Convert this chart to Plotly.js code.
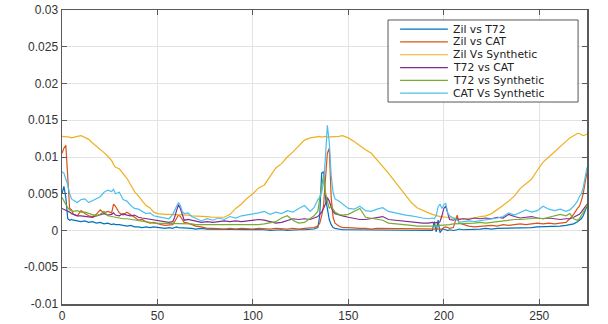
<!DOCTYPE html>
<html>
<head>
<meta charset="utf-8">
<script src="https://cdn.plot.ly/plotly-3.0.1.min.js"></script>
<style>html,body{margin:0;padding:0;background:#fff;}#plot{width:608px;height:324px;}</style>
</head>
<body>
<div id="plot"></div>
<script>
const xs = [0,1,2,3,4,5,6,
  8,10,12,14,16,18,20,22,24,26,
  27,28,30,32,34,36,38,40,42,44,46,48,50,
  52,54,56,58,59,60,61,62,63,64,
  66,68,70,73,76,79,82,85,88,91,94,97,100,
  103,106,109,112,115,118,121,124,127,130,
  132,134,135,136,137,138,139,140,141,142,143,
  145,147,150,153,156,159,162,165,168,171,
  174,177,180,183,186,189,192,194,195,196,
  197,198,199,200,201,202,203,205,207,208,
  210,213,216,219,222,225,228,231,234,237,
  240,243,246,249,252,255,258,261,264,266,
  268,270,271,272,273,274,275];

const zilVsT72 = [0.0050,0.0060,0.0045,0.0016,0.0014,0.0015,0.0014,
  0.0013,0.0012,0.0013,0.0011,0.0012,0.0010,0.0011,0.0009,0.0010,0.0008,
  0.0009,0.0008,0.0008,0.0007,0.0006,0.0007,0.0005,0.0005,0.0004,0.0005,0.0004,0.0005,0.0004,
  0.0004,0.0003,0.0004,0.0003,0.0004,0.0005,0.0004,0.0004,0.0003,0.0004,
  0.0003,0.0003,0.0002,0.0003,0.0002,0.0002,0.0001,0.0002,0.0001,0.0001,0.0002,0.0001,0.0001,
  0.0001,0.0001,0.0000,0.0001,0.0001,0.0000,0.0001,0.0001,0.0001,0.0002,
  0.0002,0.0004,0.0020,0.0078,0.0080,0.0045,0.0030,0.0015,0.0008,0.0004,0.0003,
  0.0002,0.0001,0.0001,0.0001,0.0001,0.0000,0.0001,0.0001,0.0000,0.0001,
  0.0001,0.0000,0.0001,0.0001,0.0000,0.0001,0.0001,0.0000,0.0012,-0.0002,
  0.0014,-0.0003,0.0001,0.0002,0.0001,0.0000,0.0001,0.0000,0.0001,0.0002,
  0.0001,0.0001,0.0002,0.0002,0.0003,0.0002,0.0003,0.0003,0.0004,0.0003,
  0.0004,0.0004,0.0004,0.0005,0.0005,0.0005,0.0006,0.0006,0.0007,0.0008,
  0.0009,0.0012,0.0014,0.0016,0.0020,0.0026,0.0033];

const zilVsCAT = [0.0105,0.0112,0.0116,0.0065,0.0030,0.0028,0.0022,
  0.0020,0.0027,0.0023,0.0020,0.0019,0.0022,0.0028,0.0024,0.0026,0.0024,
  0.0036,0.0033,0.0024,0.0021,0.0025,0.0022,0.0018,0.0014,0.0015,0.0012,0.0010,0.0011,0.0009,
  0.0008,0.0007,0.0007,0.0008,0.0012,0.0017,0.0021,0.0019,0.0014,0.0011,
  0.0010,0.0008,0.0006,0.0005,0.0003,0.0003,0.0002,0.0002,0.0003,0.0002,0.0003,0.0002,0.0002,
  0.0003,0.0002,0.0002,0.0003,0.0002,0.0002,0.0003,0.0002,0.0003,0.0003,
  0.0004,0.0006,0.0010,0.0020,0.0034,0.0070,0.0105,0.0112,0.0045,0.0018,0.0010,
  0.0006,0.0004,0.0004,0.0003,0.0003,0.0003,0.0002,0.0003,0.0003,0.0002,
  0.0003,0.0002,0.0003,0.0002,0.0002,0.0003,0.0002,0.0003,0.0002,0.0003,
  0.0002,0.0003,0.0002,0.0004,0.0005,0.0004,0.0003,0.0004,0.0021,0.0010,
  0.0008,0.0006,0.0005,0.0006,0.0006,0.0007,0.0006,0.0008,0.0007,0.0008,
  0.0009,0.0008,0.0009,0.0010,0.0009,0.0010,0.0009,0.0010,0.0011,0.0016,
  0.0022,0.0030,0.0033,0.0040,0.0050,0.0065,0.0079];

const zilVsSynthetic = [0.0128,0.0128,0.0127,0.0127,0.0127,0.0126,0.0127,
  0.0128,0.0129,0.0127,0.0124,0.0119,0.0115,0.0110,0.0106,0.0101,0.0095,
  0.0090,0.0086,0.0084,0.0078,0.0071,0.0062,0.0053,0.0047,0.0040,0.0034,0.0031,0.0025,0.0023,
  0.0022,0.0022,0.0022,0.0022,0.0021,0.0022,0.0022,0.0021,0.0022,0.0021,
  0.0021,0.0020,0.0020,0.0020,0.0019,0.0018,0.0018,0.0018,0.0022,0.0030,0.0036,0.0044,0.0050,
  0.0058,0.0062,0.0074,0.0085,0.0091,0.0100,0.0107,0.0115,0.0123,0.0126,
  0.0127,0.0127,0.0128,0.0127,0.0128,0.0128,0.0127,0.0127,0.0128,0.0128,0.0127,
  0.0128,0.0129,0.0126,0.0121,0.0115,0.0110,0.0105,0.0096,0.0088,0.0078,
  0.0068,0.0058,0.0048,0.0038,0.0031,0.0027,0.0024,0.0022,0.0021,0.0020,
  0.0020,0.0019,0.0019,0.0018,0.0018,0.0018,0.0017,0.0017,0.0016,0.0016,
  0.0016,0.0016,0.0017,0.0019,0.0020,0.0023,0.0028,0.0034,0.0040,0.0047,
  0.0057,0.0063,0.0070,0.0082,0.0093,0.0100,0.0107,0.0114,0.0122,0.0126,
  0.0129,0.0132,0.0132,0.0131,0.0129,0.0130,0.0131];

const t72VsCAT = [0.0030,0.0029,0.0028,0.0027,0.0025,0.0023,0.0022,
  0.0020,0.0020,0.0019,0.0019,0.0018,0.0020,0.0022,0.0023,0.0021,0.0022,
  0.0024,0.0021,0.0020,0.0023,0.0021,0.0020,0.0021,0.0018,0.0017,0.0016,0.0015,0.0014,0.0014,
  0.0013,0.0012,0.0011,0.0012,0.0018,0.0027,0.0035,0.0030,0.0020,0.0014,
  0.0015,0.0014,0.0012,0.0011,0.0012,0.0011,0.0012,0.0013,0.0012,0.0013,0.0012,0.0013,0.0014,
  0.0015,0.0014,0.0012,0.0010,0.0011,0.0014,0.0016,0.0015,0.0016,0.0015,
  0.0017,0.0019,0.0022,0.0025,0.0030,0.0036,0.0045,0.0040,0.0032,0.0026,0.0023,
  0.0021,0.0020,0.0018,0.0016,0.0015,0.0015,0.0016,0.0017,0.0019,0.0015,
  0.0014,0.0013,0.0012,0.0011,0.0011,0.0010,0.0010,0.0011,0.0010,0.0011,
  0.0010,0.0012,0.0020,0.0030,0.0033,0.0022,0.0015,0.0014,0.0016,0.0015,
  0.0016,0.0015,0.0017,0.0016,0.0017,0.0016,0.0018,0.0017,0.0022,0.0019,
  0.0017,0.0018,0.0019,0.0017,0.0016,0.0017,0.0016,0.0015,0.0016,0.0016,
  0.0018,0.0020,0.0022,0.0025,0.0028,0.0032,0.0036];

const t72VsSynthetic = [0.0045,0.0040,0.0034,0.0031,0.0028,0.0027,0.0026,
  0.0027,0.0025,0.0025,0.0023,0.0021,0.0020,0.0022,0.0026,0.0020,0.0019,
  0.0018,0.0017,0.0017,0.0016,0.0016,0.0015,0.0014,0.0013,0.0012,0.0012,0.0011,0.0010,0.0010,
  0.0010,0.0009,0.0009,0.0010,0.0010,0.0009,0.0010,0.0009,0.0009,0.0010,
  0.0009,0.0009,0.0008,0.0008,0.0008,0.0007,0.0008,0.0007,0.0007,0.0008,0.0007,0.0007,0.0008,
  0.0008,0.0009,0.0011,0.0012,0.0017,0.0020,0.0014,0.0010,0.0011,0.0016,
  0.0020,0.0026,0.0045,0.0060,0.0075,0.0052,0.0040,0.0030,0.0033,0.0028,0.0025,
  0.0022,0.0021,0.0022,0.0026,0.0030,0.0018,0.0017,0.0015,0.0014,0.0010,
  0.0009,0.0008,0.0007,0.0007,0.0006,0.0006,0.0005,0.0006,0.0006,0.0007,
  0.0006,0.0007,0.0007,0.0008,0.0007,0.0008,0.0008,0.0009,0.0009,0.0010,
  0.0009,0.0010,0.0010,0.0011,0.0010,0.0011,0.0012,0.0013,0.0014,0.0015,
  0.0015,0.0016,0.0016,0.0017,0.0016,0.0018,0.0020,0.0022,0.0020,0.0023,
  0.0016,0.0014,0.0016,0.0020,0.0024,0.0029,0.0035];

const catVsSynthetic = [0.0080,0.0078,0.0070,0.0062,0.0050,0.0043,0.0041,
  0.0038,0.0042,0.0043,0.0038,0.0041,0.0044,0.0046,0.0052,0.0055,0.0053,
  0.0056,0.0050,0.0052,0.0042,0.0040,0.0034,0.0030,0.0029,0.0026,0.0023,0.0024,0.0020,0.0019,
  0.0018,0.0017,0.0016,0.0022,0.0027,0.0033,0.0038,0.0034,0.0026,0.0023,
  0.0024,0.0019,0.0017,0.0013,0.0016,0.0014,0.0017,0.0015,0.0019,0.0017,0.0020,0.0021,0.0023,
  0.0024,0.0026,0.0022,0.0025,0.0023,0.0027,0.0025,0.0030,0.0034,0.0026,
  0.0031,0.0042,0.0045,0.0052,0.0065,0.0100,0.0143,0.0120,0.0075,0.0052,0.0043,
  0.0040,0.0036,0.0030,0.0029,0.0033,0.0027,0.0026,0.0029,0.0031,0.0026,
  0.0024,0.0023,0.0021,0.0020,0.0018,0.0017,0.0016,0.0017,0.0016,0.0020,
  0.0032,0.0036,0.0030,0.0035,0.0037,0.0024,0.0020,0.0017,0.0014,0.0011,
  0.0012,0.0013,0.0012,0.0013,0.0014,0.0015,0.0017,0.0019,0.0024,0.0021,
  0.0025,0.0028,0.0025,0.0027,0.0033,0.0029,0.0027,0.0029,0.0026,0.0028,
  0.0033,0.0040,0.0046,0.0050,0.0058,0.0072,0.0086];

const seriesNames = ['Zil vs T72','Zil vs CAT','Zil Vs Synthetic','T72 vs CAT','T72 vs Synthetic','CAT Vs Synthetic'];
const seriesColors = ['#0072BD','#D95319','#EDB120','#7E2F8E','#77AC30','#4DBEEE'];
const seriesValues = [zilVsT72, zilVsCAT, zilVsSynthetic, t72VsCAT, t72VsSynthetic, catVsSynthetic];

const xTickVals = [0,50,100,150,200,250];
const yTickVals = [-0.01,-0.005,0,0.005,0.01,0.015,0.02,0.025,0.03];
const yTickText = ['-0.01','-0.005','0','0.005','0.01','0.015','0.02','0.025','0.03'];

const traces = seriesValues.map((v, i) => ({
  x: xs, y: v, type: 'scatter', mode: 'lines', name: seriesNames[i],
  line: {color: seriesColors[i], width: 1.2}, showlegend: false
}));

const fontFamily = 'Liberation Sans, Arial, sans-serif';
const axisCommon = {
  showline: true, linecolor: '#5a5a5a', linewidth: 1.5, mirror: 'ticks',
  ticks: 'inside', ticklen: 5, tickcolor: '#5a5a5a', tickwidth: 1,
  showgrid: true, gridcolor: '#e3e3e3', gridwidth: 1, zeroline: false,
  tickfont: {family: fontFamily, size: 12, color: '#333'}
};

// Legend box (MATLAB style) in paper coordinates
const leg = {left: 0.621, right: 0.983, top: 0.966, bottom: 0.687,
             lineX0: 0.644, lineX1: 0.735, textX: 0.743, firstRow: 0.935, rowStep: 0.0436};
const shapes = [{type: 'rect', xref: 'paper', yref: 'paper', x0: leg.left, x1: leg.right,
  y0: leg.bottom, y1: leg.top, fillcolor: '#fff', line: {color: '#555', width: 1}, layer: 'above'}];
const annotations = [];
seriesNames.forEach((n, i) => {
  const yy = leg.firstRow - i * leg.rowStep;
  shapes.push({type: 'line', xref: 'paper', yref: 'paper', x0: leg.lineX0, x1: leg.lineX1,
    y0: yy, y1: yy, line: {color: seriesColors[i], width: 1.2}, layer: 'above'});
  annotations.push({xref: 'paper', yref: 'paper', x: leg.textX, y: yy, xanchor: 'left', yanchor: 'middle',
    text: n, showarrow: false, borderpad: 0,
    font: {family: 'DejaVu Sans, sans-serif', size: 10.8, color: '#222'}});
});

const layout = {
  width: 608, height: 324,
  margin: {l: 62, r: 21, t: 10, b: 20},
  paper_bgcolor: '#fff', plot_bgcolor: '#fff',
  showlegend: false,
  xaxis: Object.assign({}, axisCommon, {range: [0, 275], tickvals: xTickVals}),
  yaxis: Object.assign({}, axisCommon, {range: [-0.01, 0.03], tickvals: yTickVals, ticktext: yTickText}),
  shapes: shapes,
  annotations: annotations
};

Plotly.newPlot('plot', traces, layout, {staticPlot: true, displayModeBar: false});
</script>
</body>
</html>
